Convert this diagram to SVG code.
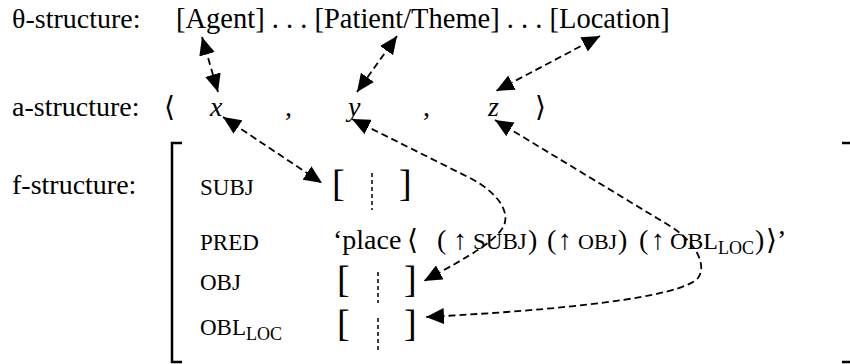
<svg xmlns="http://www.w3.org/2000/svg" width="850" height="364" viewBox="0 0 850 364">
<defs>
<style>
text{font-family:"Liberation Serif","DejaVu Serif",serif;fill:#000}
.big{font-size:28px}
.row1{font-size:28.5px}
.sc{font-size:23px}
.sub{font-size:18px}
.br{font-size:38px;font-weight:300}
.it{font-style:italic}
.conn{fill:none;stroke:#000;stroke-width:1.8;stroke-dasharray:7 4}
.vd{stroke:#000;stroke-width:1.5;stroke-dasharray:4 3}
.frame{fill:none;stroke:#000;stroke-width:2.5}
</style>
<marker id="ah" markerUnits="userSpaceOnUse" viewBox="0 0 18 16" markerWidth="18" markerHeight="16" refX="18" refY="8" orient="auto-start-reverse">
<path d="M0,0 L18,8 L0,16 z" fill="#000"/>
</marker>
</defs>
<rect width="850" height="364" fill="#fff"/>

<g id="theta-structure">
<text class="big" x="12" y="28">θ-structure:</text>
<text class="row1" x="176" y="28">[Agent] . . . [Patient/Theme] . . . [Location]</text>
</g>

<g id="a-structure">
<text class="big" x="12" y="116">a-structure:</text>
<text class="big" x="164" y="116">⟨</text>
<text class="big it" x="210" y="116">x</text>
<text class="big" x="285" y="116">,</text>
<text class="big it" x="348" y="116">y</text>
<text class="big" x="423" y="116">,</text>
<text class="big it" x="488" y="116">z</text>
<text class="big" x="535" y="116">⟩</text>
</g>

<g id="f-structure">
<text class="big" x="12" y="194">f-structure:</text>
<path class="frame" d="M182,143 H172 V362 H182"/>
<path class="frame" d="M842,143 H850 M842,362 H850"/>
</g>

<g id="subj">
<text class="sc" x="200" y="195">SUBJ</text>
<text class="br" x="332" y="196">[</text>
<text class="br" x="399" y="196">]</text>
<line class="vd" x1="372" y1="173" x2="372" y2="210"/>
</g>

<g id="pred">
<text class="sc" x="200" y="250">PRED</text>
<text class="big" y="249"><tspan x="333">‘place</tspan><tspan x="407">⟨</tspan><tspan x="437">( ↑</tspan><tspan class="sc" x="473">SUBJ</tspan><tspan x="528">)</tspan><tspan x="547">(</tspan><tspan x="558">↑</tspan><tspan class="sc" x="578" style="font-size:22px">OBJ</tspan><tspan x="618">)</tspan><tspan x="639">(</tspan><tspan x="651">↑</tspan><tspan class="sc" x="670" style="font-size:24px">OBL</tspan><tspan class="sub" x="718" dy="5">LOC</tspan><tspan x="755" dy="-5">)</tspan><tspan x="766">⟩’</tspan></text>
</g>

<g id="obj">
<text class="sc" x="200" y="290">OBJ</text>
<text class="br" x="337" y="292">[</text>
<text class="br" x="404" y="292">]</text>
<line class="vd" x1="378" y1="272" x2="378" y2="303"/>
</g>

<g id="obl-loc">
<text class="sc" x="200" y="335">OBL<tspan class="sub" dy="5">LOC</tspan></text>
<text class="br" x="337" y="336">[</text>
<text class="br" x="404" y="336">]</text>
<line class="vd" x1="378" y1="318" x2="378" y2="350"/>
</g>

<g id="connectors">
<path class="conn" marker-start="url(#ah)" marker-end="url(#ah)" d="M202,37 L218,92"/>
<path class="conn" marker-start="url(#ah)" marker-end="url(#ah)" d="M397,36 L357,92"/>
<path class="conn" marker-start="url(#ah)" marker-end="url(#ah)" d="M600,36 L496,91"/>
<path class="conn" marker-start="url(#ah)" marker-end="url(#ah)" d="M223,117 L322,183"/>
<path class="conn" marker-start="url(#ah)" marker-end="url(#ah)" d="M352,119 L470,178 C495,191 508,208 505,222 C502,238 470,256 424,281"/>
<path class="conn" marker-start="url(#ah)" marker-end="url(#ah)" d="M495,120 L670,226 C700,245 706,268 698,278 C680,298 560,310 426,317"/>
</g>
</svg>
